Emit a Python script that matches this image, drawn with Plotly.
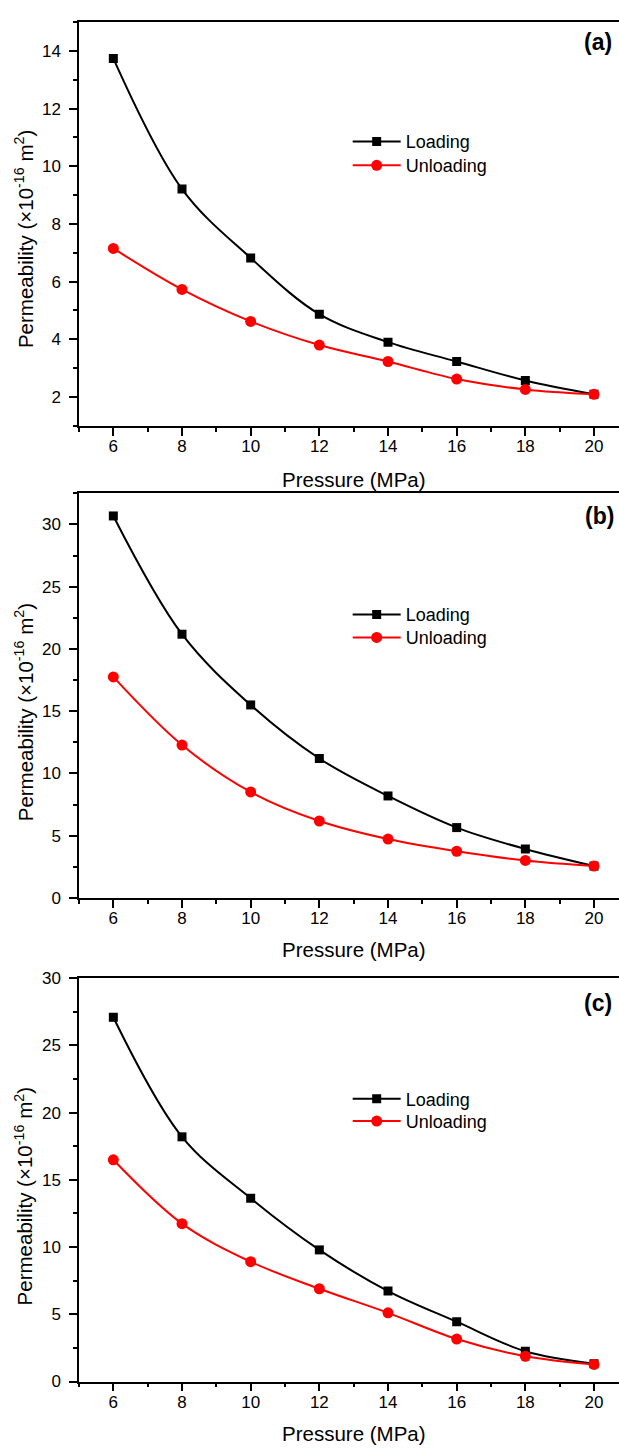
import plotly.graph_objects as go

# ---------------- data ----------------
pressure = [6, 8, 10, 12, 14, 16, 18, 20]

loading_a = [13.74, 9.21, 6.82, 4.87, 3.90, 3.23, 2.57, 2.09]
unloading_a = [7.15, 5.73, 4.62, 3.80, 3.23, 2.62, 2.26, 2.09]

loading_b = [30.68, 21.18, 15.50, 11.20, 8.19, 5.65, 3.93, 2.56]
unloading_b = [17.75, 12.28, 8.51, 6.18, 4.73, 3.75, 3.01, 2.56]

loading_c = [27.09, 18.20, 13.63, 9.79, 6.73, 4.45, 2.25, 1.32]
unloading_c = [16.49, 11.74, 8.91, 6.90, 5.11, 3.16, 1.88, 1.27]

panel_labels = ["(a)", "(b)", "(c)"]
series_names = ["Loading", "Unloading"]
x_title = "Pressure (MPa)"
y_title = "Permeability (×10<sup>-16</sup> m<sup>2</sup>)"

y_ranges = [[1, 15], [0, 32.5], [0, 30]]
y_dticks = [2, 5, 5]
y_minor = [1, 2.5, 2.5]

# ---------------- layout geometry (pixels) ----------------
W, H = 619, 1454
left_px = 78.64
plot_w = W - left_px
px_per_x = 481 / 14.0
x_right = 5 + plot_w / px_per_x
panel_px = [(13.3, 422.3), (490.7, 900.7), (982.0, 1390.7)]  # (top, bottom)
label_px = [(597.5, 33.0), (599.0, 513.3), (598.0, 1007.5)]
xtitle_py = [476.7, 953.3, 1443.4]
ytitle_py = [233.0, 712.5, 1203.0]
legend_center_py = [(140.7, 165.0), (620.0, 643.3), (1110.7, 1133.3)]
legend_left_px = 347.5
legend_top_offset = 25.0

FONT = "Arial, Liberation Sans, sans-serif"


def py(v):
    return 1 - v / H


def px(v):
    return (v - left_px) / plot_w


fig = go.Figure()
data = [(loading_a, unloading_a), (loading_b, unloading_b), (loading_c, unloading_c)]

leg_names = []
for i, (ld, ul) in enumerate(data):
    sfx = "" if i == 0 else str(i + 1)
    legA = "legend" if i == 0 else f"legend{2 * i + 1}"
    legB = f"legend{2 * i + 2}"
    leg_names.append((legA, legB))
    fig.add_trace(go.Scatter(
        x=pressure, y=ld, name=series_names[0], mode="lines+markers",
        line=dict(color="black", width=2, shape="spline", smoothing=1),
        marker=dict(symbol="square", size=9, color="black"),
        xaxis="x" + sfx, yaxis="y" + sfx, legend=legA,
    ))
    fig.add_trace(go.Scatter(
        x=pressure, y=ul, name=series_names[1], mode="lines+markers",
        line=dict(color="#ff0000", width=2, shape="spline", smoothing=1),
        marker=dict(symbol="circle", size=11, color="#ff0000"),
        xaxis="x" + sfx, yaxis="y" + sfx, legend=legB,
    ))

layout = dict(
    width=W, height=H,
    margin=dict(l=left_px, r=0, t=0, b=0),
    paper_bgcolor="white", plot_bgcolor="white",
    font=dict(family=FONT, color="black"),
    showlegend=True,
)

annotations = []
for i in range(3):
    sfx = "" if i == 0 else str(i + 1)
    top, bot = panel_px[i]
    dom = [py(bot), py(top)]
    layout["xaxis" + sfx] = dict(
        domain=[0, 1], anchor="y" + sfx, range=[5, x_right],
        tickmode="linear", tick0=0, dtick=2,
        ticks="outside", ticklen=8, tickwidth=1.5, tickcolor="black",
        minor=dict(dtick=1, tick0=0, ticks="outside", ticklen=4, tickwidth=1.5, tickcolor="black"),
        showline=True, linecolor="black", linewidth=1.5, mirror=True,
        showgrid=False, zeroline=False, ticklabelstandoff=-4,
        tickfont=dict(size=17, family=FONT),
    )
    layout["yaxis" + sfx] = dict(
        domain=dom, anchor="x" + sfx, range=y_ranges[i],
        tickmode="linear", tick0=0, dtick=y_dticks[i],
        ticks="outside", ticklen=8, tickwidth=1.5, tickcolor="black",
        minor=dict(dtick=y_minor[i], tick0=0, ticks="outside", ticklen=4, tickwidth=1.5, tickcolor="black"),
        showline=True, linecolor="black", linewidth=1.5, mirror=False,
        showgrid=False, zeroline=False, ticklabelstandoff=5,
        tickfont=dict(size=17, family=FONT),
    )
    # faint secondary ticks along the top frame
    osfx = str(i + 4)
    layout["xaxis" + osfx] = dict(
        overlaying="x" + sfx, anchor="y" + sfx, side="top", range=[0, 10],
        tickmode="array", tickvals=[1, 2, 3, 4, 5, 6, 7, 8, 9],
        ticks="inside", ticklen=3, tickwidth=1.2, tickcolor="black",
        showticklabels=False, showline=False, showgrid=False, zeroline=False,
    )
    for j, leg in enumerate(leg_names[i]):
        layout[leg] = dict(
            x=px(legend_left_px), y=py(legend_center_py[i][j] - legend_top_offset),
            xanchor="left", yanchor="top",
            bgcolor="rgba(0,0,0,0)", borderwidth=0,
            font=dict(size=18, family=FONT, color="black"),
            itemwidth=48,
        )
    lx, ly = label_px[i]
    annotations.append(dict(
        x=px(lx), y=py(ly), xref="paper", yref="paper", text=f"<b>{panel_labels[i]}</b>",
        showarrow=False, xanchor="center", yanchor="middle",
        font=dict(size=23, family=FONT, color="black"),
    ))
    annotations.append(dict(
        x=px(354), y=py(xtitle_py[i]), xref="paper", yref="paper", text=x_title,
        showarrow=False, xanchor="center", yanchor="middle",
        font=dict(size=20.5, family=FONT, color="black"),
    ))
    annotations.append(dict(
        x=px(23.7), y=py(ytitle_py[i]), xref="paper", yref="paper", text=y_title,
        showarrow=False, xanchor="center", yanchor="middle", textangle=-90,
        font=dict(size=20.5, family=FONT, color="black"),
    ))

layout["annotations"] = annotations
fig.update_layout(**layout)

fig.write_html(
    "out.html",
    config={"displayModeBar": False},
    post_script="document.body.style.margin='0';document.body.style.overflow='hidden';",
)
